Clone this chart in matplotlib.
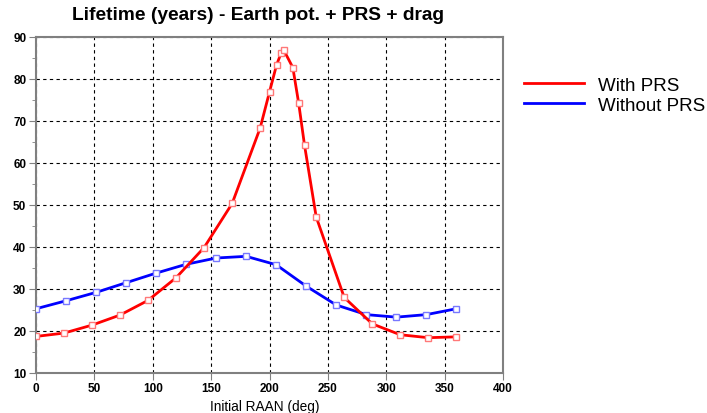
import matplotlib.pyplot as plt
from matplotlib.ticker import MultipleLocator

plt.rcParams['font.family'] = ['Liberation Sans', 'DejaVu Sans']

# with PRS
raan_prs = [0, 24, 48, 72, 96, 120, 144, 168, 192, 200, 206, 210, 212, 220, 225, 230, 240,
            264, 288, 312, 336, 360]
life_prs = [18.6, 19.4, 21.3, 23.7, 27.2, 32.6, 39.8, 50.3, 68.3, 76.9, 83.3, 86.2, 87.0,
            82.7, 74.2, 64.2, 47.1, 27.9, 21.6, 19.0, 18.3, 18.5]

# without PRS
raan_noprs = [0, 25.7, 51.4, 77.1, 102.9, 128.6, 154.3, 180, 205.7, 231.4, 257.1, 282.9,
              308.6, 334.3, 360]
life_noprs = [25.2, 27.1, 29.1, 31.4, 33.7, 35.8, 37.3, 37.7, 35.7, 30.6, 26.1, 23.8,
              23.2, 23.8, 25.2]

fig = plt.figure(figsize=(7.07, 4.14), dpi=100)
ax = fig.add_axes([36 / 707, 1 - 373.5 / 414, 467 / 707, 335.5 / 414])

l2, = ax.plot(raan_noprs, life_noprs, color='#0000ff', lw=2, marker='s', ms=4.5,
              mfc='white', mec='#7878ff', mew=1, zorder=3)
l1, = ax.plot(raan_prs, life_prs, color='#ff0000', lw=2, marker='s', ms=4.5,
              mfc='white', mec='#ff7878', mew=1, zorder=4)

ax.set_xlim(0, 400)
ax.set_ylim(10, 90)
ax.xaxis.set_major_locator(MultipleLocator(50))
ax.yaxis.set_major_locator(MultipleLocator(10))
ax.yaxis.set_minor_locator(MultipleLocator(5))
ax.grid(True, which='major', color='black', linestyle=(0, (3, 3)), lw=0.8)

for s in ax.spines.values():
    s.set_color('#808080')
    s.set_linewidth(1.5)
ax.tick_params(which='both', direction='out', color='#808080', labelsize=8.5, pad=2)
ax.tick_params(which='major', length=5)
ax.tick_params(which='minor', length=3)
for lab in ax.get_xticklabels() + ax.get_yticklabels():
    lab.set_fontweight('bold')

fig.text(258 / 707, 1 - 16 / 414, 'Lifetime (years) - Earth pot. + PRS + drag',
         fontsize=13.8, fontweight='bold', ha='center', va='center')
fig.text(265 / 707, 1 - 407 / 414, 'Initial RAAN (deg)', fontsize=9.8,
         ha='center', va='center')

fig.legend([l1, l2], ['With PRS', 'Without PRS'], loc='upper left',
           bbox_to_anchor=(516 / 707, 1 - 70 / 414), frameon=False, fontsize=13.5,
           handlelength=3.2, handletextpad=0.8, labelspacing=0.15, borderaxespad=0)
for h in fig.legends[0].legend_handles:
    h.set_marker('')

fig.savefig('out.png', dpi=100)
